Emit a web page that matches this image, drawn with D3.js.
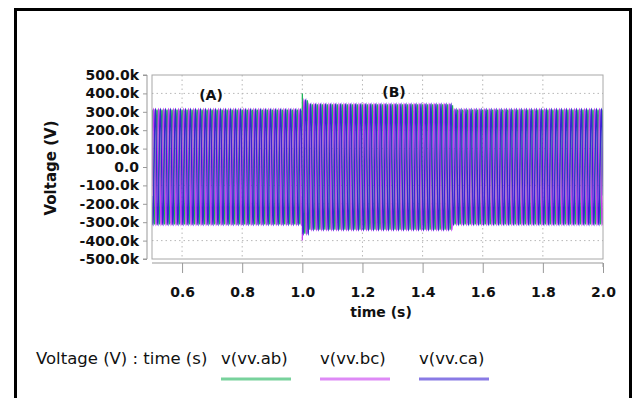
<!DOCTYPE html>
<html>
<head>
<meta charset="utf-8">
<script src="https://cdn.jsdelivr.net/npm/d3@7"></script>
<style>
  body { margin: 0; background: #fff; }
  svg { display: block; }
</style>
</head>
<body>
<svg width="635" height="398"></svg>
<script>
// values
var seriesNames = ["v(vv.ab)", "v(vv.bc)", "v(vv.ca)"];
var seriesColors = ["#1eb45a", "#c83cf0", "#3a22d4"];
var phaseDeg = [0, -120, 120];
var freqHz = 60;
// peak envelope (kV) per segment start time
var segStart = [0.5, 1.0, 1.02, 1.5];
var segPeakKV = [312, 362, 340, 312];
// switching transient at t = 1.0
var spikeSeries = [0, 1];
var spikeTime = [1.0, 1.0];
var spikeKV = [400, -400];

var xTicks = [0.6, 0.8, 1.0, 1.2, 1.4, 1.6, 1.8, 2.0];
var yTicks = [500, 400, 300, 200, 100, 0, -100, -200, -300, -400, -500];
var yTickLabels = ["500.0k", "400.0k", "300.0k", "200.0k", "100.0k", "0.0",
                   "-100.0k", "-200.0k", "-300.0k", "-400.0k", "-500.0k"];

var svg = d3.select("svg"),
    margin = {top: 75, left: 152, right: 32, bottom: 139},
    width = +svg.attr("width") - margin.left - margin.right,
    height = +svg.attr("height") - margin.top - margin.bottom;

var x = d3.scaleLinear().domain([0.5, 2.0]).range([margin.left, margin.left + width]);
var y = d3.scaleLinear().domain([-500, 500]).range([margin.top + height, margin.top]);

// outer frame
svg.append("rect")
    .attr("x", 15.5).attr("y", 9.5)
    .attr("width", 615).attr("height", 420)
    .attr("fill", "none").attr("stroke", "#000").attr("stroke-width", 3);

// grid
var grid = svg.append("g").attr("stroke", "#b8b8b8").attr("stroke-dasharray", "1.5,3");
grid.selectAll("line.vx").data(xTicks.slice(0, -1)).enter().append("line")
    .attr("x1", function(d) { return x(d); }).attr("x2", function(d) { return x(d); })
    .attr("y1", y(500)).attr("y2", y(-500));
grid.selectAll("line.hy").data(yTicks.slice(1, -1)).enter().append("line")
    .attr("x1", x(0.5)).attr("x2", x(2.0))
    .attr("y1", function(d) { return y(d); }).attr("y2", function(d) { return y(d); });

// waveforms
function peakAt(t) {
    var a = segPeakKV[0];
    for (var i = 0; i < segStart.length; i++) if (t >= segStart[i]) a = segPeakKV[i];
    return a;
}
var dt = 1 / (freqHz * 40);
var series = seriesNames.map(function(name, k) {
    var pts = [];
    for (var t = 0.5; t <= 2.0 + 1e-9; t += dt) {
        pts.push({t: t, v: peakAt(t) * Math.cos(2 * Math.PI * freqHz * t + phaseDeg[k] * Math.PI / 180)});
    }
    spikeSeries.forEach(function(s, j) {
        if (s === k) pts.push({t: spikeTime[j], v: spikeKV[j]});
    });
    pts.sort(function(a, b) { return a.t - b.t; });
    return pts;
});

svg.append("clipPath").attr("id", "clip").append("rect")
    .attr("x", x(0.5)).attr("y", y(500)).attr("width", width).attr("height", height);

var line = d3.line()
    .x(function(d) { return x(d.t); })
    .y(function(d) { return y(d.v); });

svg.append("g").attr("clip-path", "url(#clip)")
    .selectAll("path").data(series).enter().append("path")
    .attr("fill", "none")
    .attr("stroke", function(d, i) { return seriesColors[i]; })
    .attr("stroke-width", 1.25)
    .attr("d", line);

// plot frame
svg.append("rect")
    .attr("x", x(0.5)).attr("y", y(500)).attr("width", width).attr("height", height)
    .attr("fill", "none").attr("stroke", "#a8a8a8").attr("stroke-width", 1);

// y axis
var yAxis = svg.append("g")
    .attr("transform", "translate(147,0)")
    .call(d3.axisLeft(y).tickValues(yTicks).tickSize(4).tickPadding(4)
        .tickFormat(function(d, i) { return yTickLabels[i]; }));
yAxis.select(".domain").attr("stroke", "#999").attr("d", "M-4," + y(500) + "H0V" + y(-500) + "H-4");
yAxis.selectAll(".tick line").attr("stroke", "#999");
yAxis.selectAll("text").attr("font-family", "DejaVu Sans").attr("font-weight", "bold")
    .attr("font-size", 14).attr("fill", "#111");

// x axis
var xAxis = svg.append("g")
    .attr("transform", "translate(0,263)")
    .call(d3.axisBottom(x).tickValues(xTicks).tickSize(10).tickPadding(14)
        .tickFormat(d3.format(".1f")));
xAxis.select(".domain").attr("stroke", "#999").attr("d", "M" + x(0.5) + ",0H" + x(2.0) + "V4");
xAxis.selectAll(".tick line").attr("stroke", "#999");
xAxis.selectAll("text").attr("font-family", "DejaVu Sans").attr("font-weight", "bold")
    .attr("font-size", 14).attr("fill", "#111");

// labels
var bold = {"font-family": "DejaVu Sans", "font-weight": "bold", "font-size": 14, "fill": "#111"};
function addText(txt, px, py, attrs, anchor) {
    var el = svg.append("text").attr("x", px).attr("y", py)
        .attr("text-anchor", anchor || "middle").text(txt);
    Object.keys(attrs).forEach(function(k) { el.attr(k, attrs[k]); });
    return el;
}
addText("(A)", 211, 100, bold);
addText("(B)", 394, 97, bold);
addText("time (s)", 381, 317, bold);
addText("Voltage (V)", 0, 0, bold).attr("font-size", 15)
    .attr("transform", "translate(56,168) rotate(-90)");

// legend
var reg = {"font-family": "DejaVu Sans", "font-size": 16.5, "fill": "#111"};
addText("Voltage (V) : time (s)", 36, 364, reg, "start");
var legendX = [221, 320, 419];
seriesNames.forEach(function(name, i) {
    addText(name, legendX[i], 364, reg, "start");
    svg.append("line")
        .attr("x1", legendX[i]).attr("x2", legendX[i] + 70)
        .attr("y1", 379).attr("y2", 379)
        .attr("stroke", seriesColors[i]).attr("stroke-opacity", 0.6)
        .attr("stroke-width", 3);
});
</script>
</body>
</html>
